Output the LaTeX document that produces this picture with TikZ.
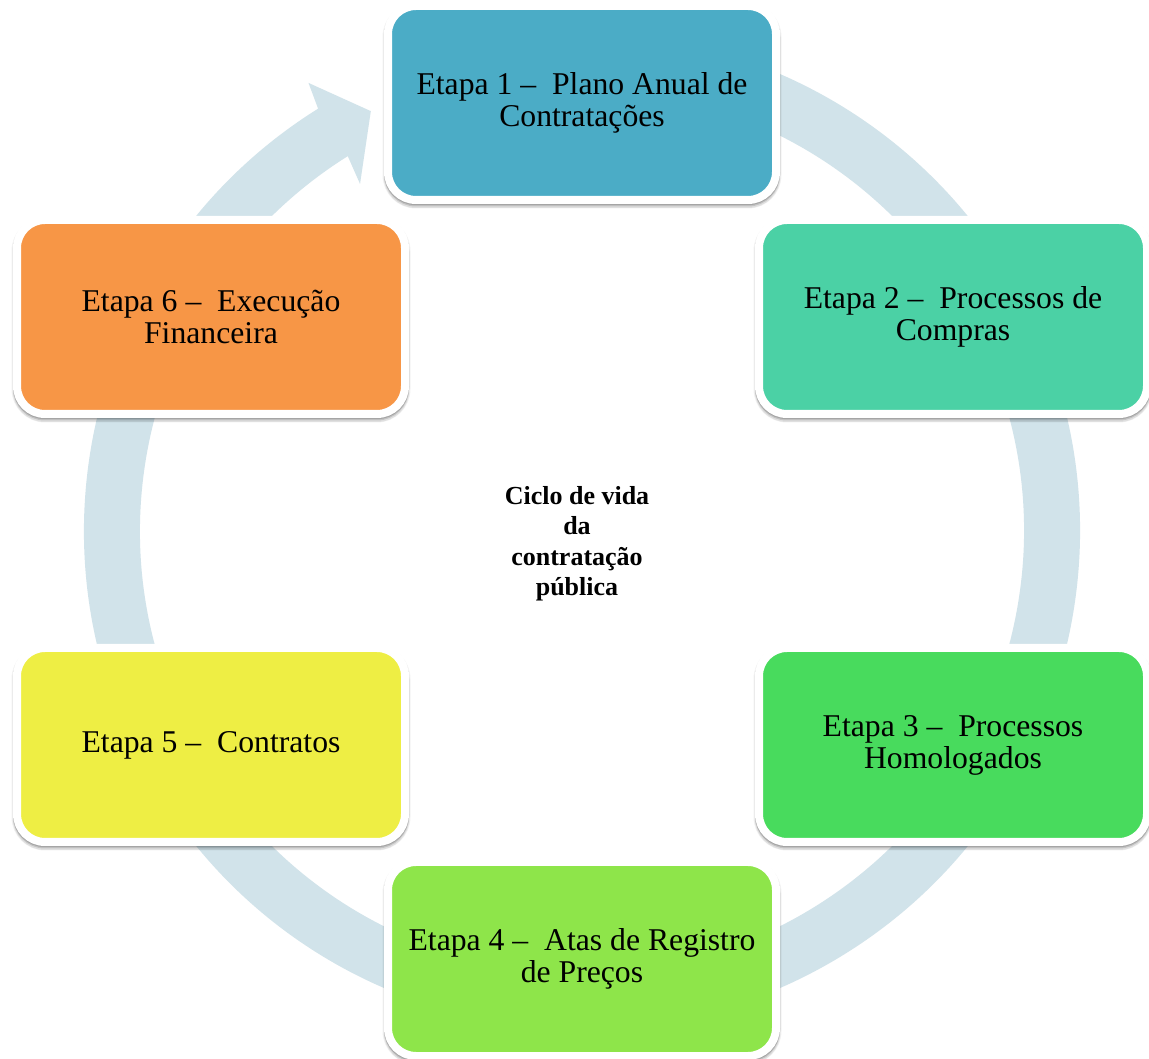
\documentclass[tikz,border=0pt]{standalone}
\usepackage{fontspec}
\setmainfont{Liberation Serif}

\definecolor{ringblue}{RGB}{209,227,234}
\definecolor{stageA}{RGB}{75,172,198}
\definecolor{stageB}{RGB}{75,209,165}
\definecolor{stageC}{RGB}{72,219,93}
\definecolor{stageD}{RGB}{142,229,74}
\definecolor{stageE}{RGB}{238,238,68}
\definecolor{stageF}{RGB}{247,150,70}

\tikzset{
  % one soft layer of the shadow around the white frame
  halo/.style n args={3}{preaction={draw=black, line width=#1, draw opacity=#2,
      transform canvas={yshift=#3}}},
  stage/.style={rectangle, rounded corners=28, draw=white, line width=8,
    minimum width=388, minimum height=194, inner sep=0, align=center,
    font=\fontsize{31.7}{32}\selectfont, text=black,
    halo={11}{0.05}{-3pt}, halo={9}{0.08}{-3.5pt}, halo={8}{0.12}{-2.5pt},
    halo={8}{0.15}{-1.2pt}},
  hub/.style={align=center, inner sep=0, font=\bfseries\fontsize{26}{30.5}\selectfont}
}

\begin{document}
\begin{tikzpicture}[x=1pt,y=1pt]
  \useasboundingbox[fill=white] (0,0) rectangle (1149,1058);
  \coordinate (C) at (582,527);

  % circular arrow running clockwise behind the stages
  \begin{scope}[shift={(C)}]
    \fill[ringblue] (122:498) arc[start angle=122, end angle=440, radius=498]
      -- (440:442) arc[start angle=440, end angle=122, radius=442]
      -- (122.6:412) -- (116.7:470) -- (121.4:525) -- cycle;
  \end{scope}

  % stages of the cycle
  \node[stage, fill=stageA] (s1) at (582,955) {Etapa 1 –\ \ Plano Anual de\\Contratações};
  \node[stage, fill=stageB] (s2) at (953,741) {Etapa 2 –\ \ Processos de\\Compras};
  \node[stage, fill=stageC] (s3) at (953,313) {Etapa 3 –\ \ Processos\\Homologados};
  \node[stage, fill=stageD] (s4) at (582,99)  {Etapa 4 –\ \ Atas de Registro\\de Preços};
  \node[stage, fill=stageE] (s5) at (211,313) {Etapa 5 –\ \ Contratos};
  \node[stage, fill=stageF] (s6) at (211,741) {Etapa 6 –\ \ Execução\\Financeira};

  % central title
  \node[hub] (title) at (577,514) {Ciclo de vida\\da\\contratação\\pública};
\end{tikzpicture}
\end{document}
